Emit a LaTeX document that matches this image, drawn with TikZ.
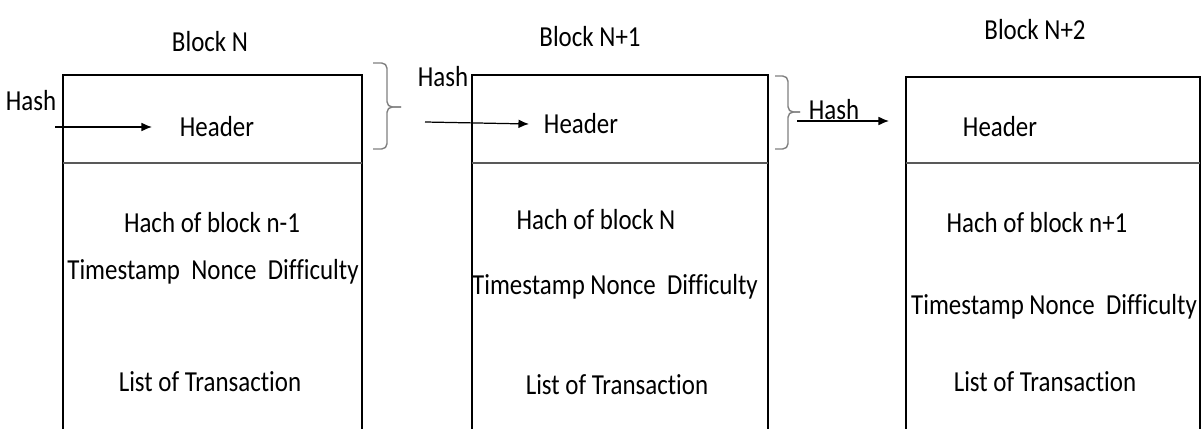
\documentclass[tikz,border=0pt]{standalone}
\usepackage{fontspec}
\setmainfont{Carlito}[FakeStretch=0.86,Ligatures=NoCommon]
\usetikzlibrary{arrows.meta}

\tikzset{
  lbl/.style={font=\fontsize{16.5}{18}\selectfont, inner sep=1pt},
  blockline/.style={line width=1.1pt},
  divline/.style={gray!70!black, line width=0.6pt},
  hasharrow/.style={-{Latex[length=6pt,width=5pt]}, line width=0.7pt},
  hashbrace/.style={gray, line width=0.8pt, rounded corners=3pt},
}

\begin{document}
\begin{tikzpicture}[x=0.02cm,y=-0.02cm]
  \useasboundingbox (0,0) rectangle (1203,429);
  % block outlines, open at the bottom
  \foreach \l/\r/\t in {63/362/75, 472/768/75, 906/1200/77} {
    \draw[blockline] (\l,429) -- (\l,\t) -- (\r,\t) -- (\r,429);
    \draw[divline] (\l,163) -- (\r,163);
  }
  % titles
  \node[lbl] (titleA) at (210,42) {Block N};
  \node[lbl] (titleB) at (590,37) {Block N+1};
  \node[lbl] (titleC) at (1035,30) {Block N+2};
  % block N
  \node[lbl] (hashA) at (31,101) {Hash};
  \node[lbl] (headA) at (217,127) {Header};
  \node[lbl] (prevA) at (212,223) {Hach of block n-1};
  \node[lbl] (fieldsA) at (213,272) {Timestamp\ \ Nonce\ \ Difficulty};
  \node[lbl] (txA) at (210,382) {List of Transaction};
  % block N+1
  \node[lbl] (hashB) at (443,77) {Hash};
  \node[lbl] (headB) at (581,124) {Header};
  \node[lbl] (prevB) at (596,220) {Hach of block N};
  \node[lbl] (fieldsB) at (615,287) {Timestamp Nonce\ \ Difficulty};
  \node[lbl] (txB) at (617,385) {List of Transaction};
  % block N+2
  \node[lbl] (hashC) at (834,110) {Hash};
  \node[lbl] (headC) at (1000,127) {Header};
  \node[lbl] (prevC) at (1037,223) {Hach of block n+1};
  \node[lbl] (fieldsC) at (1054,307) {Timestamp\ Nonce\ \ Difficulty};
  \node[lbl] (txC) at (1045,382) {List of Transaction};
  % braces round the headers
  \draw[hashbrace] (373,63) -- (387,63) -- (387,107) -- (401,107);
  \draw[hashbrace] (401,107) -- (387,107) -- (387,149) -- (373,149);
  \draw[hashbrace] (775,76) -- (788,76) -- (788,112) -- (800,112);
  \draw[hashbrace] (800,112) -- (788,112) -- (788,149) -- (775,149);
  % hash arrows
  \coordinate (inA) at (55,127);
  \coordinate (inB) at (425,122);
  \coordinate (inC) at (797,121);
  \coordinate (endC) at (889,121);
  \draw[hasharrow] (inA) -- (headA.west -| 152,0);
  \draw[hasharrow] (inB) -- (headB.west -| 529,0);
  \draw[hasharrow] (inC) -- (endC);
\end{tikzpicture}
\end{document}
